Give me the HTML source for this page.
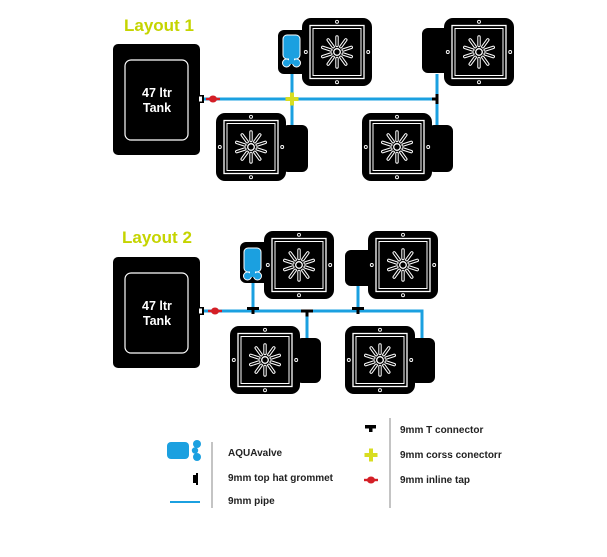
<!DOCTYPE html>
<html><head><meta charset="utf-8"><style>
html,body{margin:0;padding:0;background:#fff;}
body{width:607px;height:552px;overflow:hidden;font-family:"Liberation Sans",sans-serif;}
</style></head><body>
<svg width="607" height="552" viewBox="0 0 607 552" xmlns="http://www.w3.org/2000/svg">
<defs>
<g id="petals">
    <line x1="0" y1="-6.5" x2="0" y2="-15"/><line x1="0" y1="-6.5" x2="0" y2="-15" transform="rotate(36)"/>
    <line x1="0" y1="-6.5" x2="0" y2="-15" transform="rotate(72)"/><line x1="0" y1="-6.5" x2="0" y2="-15" transform="rotate(108)"/>
    <line x1="0" y1="-6.5" x2="0" y2="-15" transform="rotate(144)"/><line x1="0" y1="-6.5" x2="0" y2="-15" transform="rotate(180)"/>
    <line x1="0" y1="-6.5" x2="0" y2="-15" transform="rotate(216)"/><line x1="0" y1="-6.5" x2="0" y2="-15" transform="rotate(252)"/>
    <line x1="0" y1="-6.5" x2="0" y2="-15" transform="rotate(288)"/><line x1="0" y1="-6.5" x2="0" y2="-15" transform="rotate(324)"/>
</g>
<g id="flower">
  <use href="#petals" stroke="#fff" stroke-width="3.4" stroke-linecap="round"/>
  <use href="#petals" stroke="#000" stroke-width="1.4" stroke-linecap="round"/>
  <circle r="3.3" fill="none" stroke="#fff" stroke-width="1.3"/>
</g>
<g id="pot">
  <rect x="0" y="0" width="70" height="68" rx="9" fill="#000"/>
  <rect x="8" y="7.5" width="54" height="53" fill="none" stroke="#fff" stroke-width="1.3"/>
  <rect x="11" y="10.5" width="48" height="47" fill="none" stroke="#fff" stroke-width="1"/>
  <circle cx="35" cy="3.8" r="1.5" fill="none" stroke="#fff" stroke-width="0.9"/>
  <circle cx="35" cy="64.2" r="1.5" fill="none" stroke="#fff" stroke-width="0.9"/>
  <circle cx="3.8" cy="34" r="1.5" fill="none" stroke="#fff" stroke-width="0.9"/>
  <circle cx="66.2" cy="34" r="1.5" fill="none" stroke="#fff" stroke-width="0.9"/>
  <use href="#flower" transform="translate(35,34)"/>
</g>
<g id="aqua">
  <rect x="0" y="0" width="17" height="24" rx="4" fill="#1ba0e0" stroke="#fff" stroke-width="1"/>
  <circle cx="3.5" cy="28" r="4" fill="#1ba0e0" stroke="#fff" stroke-width="1"/>
  <circle cx="13.5" cy="28" r="4" fill="#1ba0e0" stroke="#fff" stroke-width="1"/>
  <rect x="6" y="23" width="5" height="6" fill="#1ba0e0"/>
</g>
<g id="tap"><ellipse cx="0" cy="0" rx="4" ry="3.5" fill="#d41f26"/><rect x="-7" y="-1.2" width="14" height="2.4" fill="#d41f26"/></g>
<g id="tank">
  <rect x="0" y="0" width="87" height="111" rx="5" fill="#000"/>
  <rect x="12" y="16" width="63" height="80" rx="6" fill="none" stroke="#fff" stroke-width="1.2"/>
</g>
</defs>

<!-- Layout 1 -->
<text x="124" y="31" font-size="17" font-weight="bold" fill="#c5d400">Layout 1</text>
<use href="#tank" x="113" y="44"/>
<text x="157" y="97" font-size="12.5" font-weight="bold" fill="#fff" text-anchor="middle">47 ltr</text>
<text x="157" y="112" font-size="12.5" font-weight="bold" fill="#fff" text-anchor="middle">Tank</text>
<g stroke="#1ba0e0" stroke-width="3" fill="none">
  <line x1="202" y1="99" x2="437" y2="99"/>
  <line x1="292" y1="68" x2="292" y2="126"/>
  <line x1="437" y1="74" x2="437" y2="126"/>
</g>
<rect x="278" y="30" width="30" height="44" rx="6" fill="#000"/>
<use href="#pot" x="302" y="18"/>
<use href="#aqua" x="283" y="35"/>
<rect x="422" y="28" width="30" height="45" rx="6" fill="#000"/>
<use href="#pot" x="444" y="18"/>
<rect x="282" y="125" width="26" height="47" rx="6" fill="#000"/>
<use href="#pot" x="216" y="113"/>
<rect x="428" y="125" width="25" height="47" rx="6" fill="#000"/>
<use href="#pot" x="362" y="113"/>
<rect x="198" y="95" width="6" height="8" fill="#000"/><rect x="199" y="96.5" width="3" height="5" fill="#fff"/>
<use href="#tap" x="213" y="99"/>
<rect x="285.5" y="97" width="13" height="4" fill="#d8dd22"/><rect x="290" y="92.5" width="4" height="13" fill="#d8dd22"/>
<rect x="435.5" y="94" width="3" height="10" fill="#000"/><rect x="432" y="97.5" width="5" height="3" fill="#000"/>

<!-- Layout 2 -->
<text x="122" y="243" font-size="17" font-weight="bold" fill="#c5d400">Layout 2</text>
<use href="#tank" x="113" y="257"/>
<text x="157" y="310" font-size="12.5" font-weight="bold" fill="#fff" text-anchor="middle">47 ltr</text>
<text x="157" y="325" font-size="12.5" font-weight="bold" fill="#fff" text-anchor="middle">Tank</text>
<g stroke="#1ba0e0" stroke-width="3" fill="none">
  <polyline points="202,311 422,311 422,340"/>
  <line x1="253" y1="282" x2="253" y2="311"/>
  <line x1="358" y1="284" x2="358" y2="311"/>
  <line x1="307" y1="311" x2="307" y2="340"/>
</g>
<rect x="240" y="242" width="30" height="41" rx="6" fill="#000"/>
<use href="#pot" x="264" y="231"/>
<use href="#aqua" x="244" y="248"/>
<rect x="345" y="250" width="30" height="36" rx="6" fill="#000"/>
<use href="#pot" x="368" y="231"/>
<rect x="296" y="338" width="25" height="45" rx="6" fill="#000"/>
<use href="#pot" x="230" y="326"/>
<rect x="410" y="338" width="25" height="45" rx="6" fill="#000"/>
<use href="#pot" x="345" y="326"/>
<rect x="198" y="307" width="6" height="8" fill="#000"/><rect x="199" y="308.5" width="3" height="5" fill="#fff"/>
<use href="#tap" x="215" y="311"/>
<rect x="247" y="307" width="12" height="3" fill="#000"/><rect x="251.5" y="307" width="3" height="7" fill="#000"/>
<rect x="352" y="307" width="12" height="3" fill="#000"/><rect x="356.5" y="307" width="3" height="7" fill="#000"/>
<rect x="301" y="309.5" width="12" height="3" fill="#000"/><rect x="305.5" y="309.5" width="3" height="7" fill="#000"/>

<!-- Legend -->
<rect x="167" y="442" width="22" height="17" rx="4" fill="#1ba0e0"/>
<circle cx="197" cy="444" r="4" fill="#1ba0e0"/><circle cx="197" cy="457" r="4" fill="#1ba0e0"/><circle cx="195" cy="450.5" r="3.2" fill="#1ba0e0"/>
<path d="M193,475 h3 v-2 h2 v12 h-2 v-2 h-3 z" fill="#000"/>
<line x1="170" y1="502" x2="200" y2="502" stroke="#1ba0e0" stroke-width="2"/>
<line x1="212" y1="442" x2="212" y2="508" stroke="#888" stroke-width="1"/>
<text x="228" y="456" font-size="10" font-weight="bold" fill="#222">AQUAvalve</text>
<text x="228" y="481" font-size="10" font-weight="bold" fill="#222">9mm top hat grommet</text>
<text x="228" y="504" font-size="10" font-weight="bold" fill="#222">9mm pipe</text>
<rect x="365" y="425" width="11" height="3.5" fill="#000"/><rect x="369" y="425" width="3.5" height="7" fill="#000"/>
<rect x="364.5" y="453" width="13" height="4" fill="#d8dd22"/><rect x="369" y="448.5" width="4" height="13" fill="#d8dd22"/>
<use href="#tap" x="371" y="480"/>
<line x1="390" y1="418" x2="390" y2="508" stroke="#888" stroke-width="1"/>
<text x="400" y="433" font-size="10" font-weight="bold" fill="#222">9mm T connector</text>
<text x="400" y="458" font-size="10" font-weight="bold" fill="#222">9mm corss conectorr</text>
<text x="400" y="483" font-size="10" font-weight="bold" fill="#222">9mm inline tap</text>
</svg>
</body></html>
